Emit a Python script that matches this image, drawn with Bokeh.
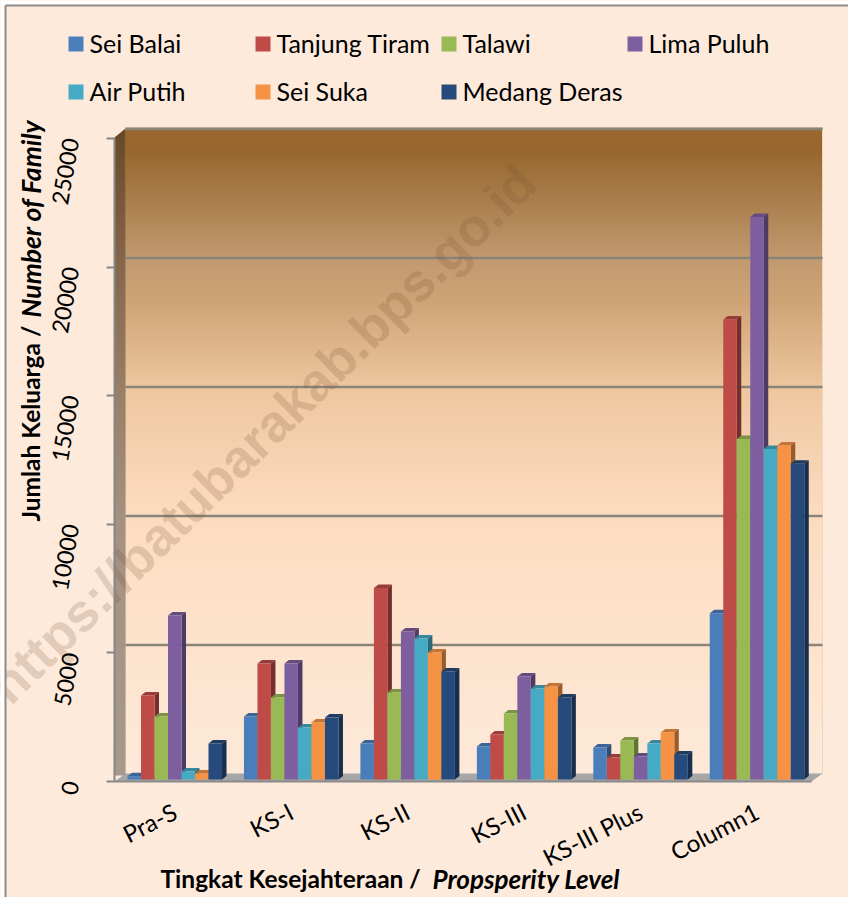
from bokeh.plotting import figure
from bokeh.models import Range1d, LinearAxis, FixedTicker
from bokeh.core.properties import value
from bokeh.embed import file_html
from bokeh.resources import INLINE
import math

categories = ["Pra-S", "KS-I", "KS-II", "KS-III", "KS-III Plus", "Column1"]
series_names = ["Sei Balai", "Tanjung Tiram", "Talawi", "Lima Puluh", "Air Putih", "Sei Suka", "Medang Deras"]
colors = ["#4a7ebb", "#be4b48", "#98b954", "#7d5fa0", "#46aac4", "#f59243", "#254a7b"]
sei_balai = [130, 2440, 1395, 1280, 1240, 6440]
tanjung_tiram = [3256, 4500, 7420, 1745, 850, 17830]
talawi = [2440, 3180, 3370, 2560, 1510, 13200]
lima_puluh = [6356, 4500, 5740, 3990, 890, 21800]
air_putih = [310, 2015, 5465, 3530, 1395, 12810]
sei_suka = [230, 2210, 4920, 3600, 1820, 12950]
medang_deras = [1395, 2400, 4190, 3180, 970, 12240]
y_ticks = [0, 5000, 10000, 15000, 20000, 25000]
series = [sei_balai, tanjung_tiram, talawi, lima_puluh, air_putih, sei_suka, medang_deras]

FONT = value("Lato")
BG = "#fdeadb"
W, H = 848, 897
PX0, PY0 = 0, 0
G0, GSTEP, BW = 174.25, 116.45, 13.5
SCALE = 645 / 25000
BASE = 779
DX, DY = 4.5, 3.5

p = figure(width=W, height=H, output_backend="svg", toolbar_location=None,
           x_axis_type=None, y_axis_type=None, min_border=0,
           x_range=Range1d((PX0 - G0) / GSTEP, (PX0 + W - G0) / GSTEP),
           y_range=Range1d((BASE - (PY0 + H)) / SCALE, (BASE - PY0) / SCALE))
p.outline_line_color = None
p.background_fill_color = BG
p.border_fill_color = BG
p.extra_x_ranges = {"px": Range1d(PX0, PX0 + W)}
p.extra_y_ranges = {
    "px": Range1d(PY0 + H, PY0),
    "axis": Range1d((781 - (PY0 + H)) / 0.02572, (781 - PY0) / 0.02572),
    "wall": Range1d((773.5 - (PY0 + H)) / 0.0258, (773.5 - PY0) / 0.0258),
}
PXR = dict(x_range_name="px", y_range_name="px")


def hexrgb(c):
    return [int(c[i:i + 2], 16) for i in (1, 3, 5)]


def ramp(stops, y):
    for (a, ca), (b, cb) in zip(stops, stops[1:]):
        if y <= b:
            t = (y - a) / (b - a)
            return "#%02x%02x%02x" % tuple(round(u + (v - u) * t) for u, v in zip(hexrgb(ca), hexrgb(cb)))
    return stops[-1][1]


WX0, WX1, WY0, WY1 = 125, 822, 128, 774
wall_stops = [(128, "#99682f"), (150, "#97672f"), (258, "#c29a70"), (300, "#cea376"), (387, "#eec79f"),
              (516, "#fcdcc0"), (645, "#fde3cd"), (774, "#fde9d9")]
side_stops = [(128, "#694a27"), (258, "#86664a"), (387, "#987f65"), (516, "#a59180"), (774, "#a79a8c")]
ys = list(range(WY0, WY1, 2))
p.quad(left=WX0, right=WX1, top=ys, bottom=[y + 3 for y in ys],
       fill_color=[ramp(wall_stops, y) for y in ys], line_color=None, **PXR)
# left side wall
p.patches([[114, WX0, WX0, 114] for y in ys],
          [[y + 9 - 9 * (y - WY0) / (WY1 - WY0), y, y + 3, y + 12 - 9 * (y - WY0) / (WY1 - WY0)] for y in ys],
          fill_color=[ramp(side_stops, y) for y in ys], line_color=None, **PXR)
# floor
p.patch([114, WX0, WX1, 811], [781, 773, 773, 781], fill_color="#a6a6a6", line_color=None, **PXR)
p.segment([WX1], [WY0], [WX1], [WY1], line_color="#f2d6bd", line_width=1, **PXR)
p.segment([WX0], [WY0], [WX1], [WY0], line_color="#8f8a80", line_width=2, **PXR)
p.segment([114], [781], [811], [781], line_color="#8a8a8a", line_width=2, **PXR)
# back-wall gridlines
p.segment(x0=[WX0] * 5, y0=y_ticks[1:], x1=[WX1] * 5, y1=y_ticks[1:], line_color="#8a8478", line_width=2.5,
          x_range_name="px", y_range_name="wall")

# watermark
p.text([262], [433], text=["https://batubarakab.bps.go.id"], angle=math.radians(44.5), text_align="center",
       text_baseline="middle", text_font=value("Liberation Sans"), text_font_style="bold", text_font_size="53px",
       text_color="#7a4f30", text_alpha=0.2, **PXR)


def shade(c, f):
    return "#%02x%02x%02x" % tuple(round(v * f) for v in hexrgb(c))


ux, uy = DX / GSTEP, DY / SCALE
bw = BW / GSTEP
for s, vals in enumerate(series):
    x0 = [g + (s - 3.5) * bw for g in range(len(vals))]
    x1 = [x + bw for x in x0]
    p.patches([[a, a + ux, b + ux, b] for a, b in zip(x0, x1)],
              [[v, v + uy, v + uy, v] for v in vals],
              fill_color=shade(colors[s], 0.8), line_color=None)
    p.patches([[b, b + ux, b + ux, b] for b in x1],
              [[v, v + uy, uy, 0] for v in vals],
              fill_color=shade(colors[s], 0.62), line_color=None)
    p.quad(left=x0, right=x1, bottom=0, top=vals, fill_color=colors[s], line_color=None)

# outer white strip and chart-area border
p.quad(left=[0, 0], right=[5, W], top=[0, 0], bottom=[H, 4], fill_color="#ffffff", line_color=None, **PXR)
p.segment([5, 5], [5, 5], [W, 5], [5, H], line_color="#8c8c8c", line_width=2, **PXR)

# legend
lx = [68, 255, 441, 627, 68, 255, 441]
ly = [43.5, 43.5, 43.5, 43.5, 91.5, 91.5, 91.5]
p.rect(x=[x + 7.5 for x in lx], y=ly, width=15, height=15, fill_color=colors, line_color=None, **PXR)
p.text([x + 21 for x in lx], [y - 1 for y in ly], text=series_names, text_font=FONT, text_font_size="25px",
       text_baseline="middle", text_color="#000000", **PXR)

# axes
ax_y = LinearAxis(ticker=FixedTicker(ticks=y_ticks), fixed_location=113.5, x_range_name="px", y_range_name="axis",
                  bounds=(0, 25000), major_tick_out=8, major_tick_in=0, minor_tick_out=0, minor_tick_in=0,
                  axis_line_color="#868686", axis_line_width=2, major_tick_line_color="#868686",
                  major_tick_line_width=2, major_label_standoff=35, major_label_orientation=math.radians(80),
                  major_label_text_font="Lato", major_label_text_font_size="23px",
                  major_label_text_color="#000000")
p.add_layout(ax_y, "left")
ax_x = LinearAxis(ticker=FixedTicker(ticks=list(range(len(categories)))), fixed_location=781, y_range_name="px",
                  major_label_overrides={i: c for i, c in enumerate(categories)},
                  major_tick_out=0, major_tick_in=0, minor_tick_out=0, minor_tick_in=0, axis_line_color=None,
                  major_label_standoff=28, major_label_orientation=math.radians(27),
                  major_label_text_font="Lato", major_label_text_font_size="24px",
                  major_label_text_color="#000000")
p.add_layout(ax_x, "below")

# axis titles
p.text([30], [521], text=["Jumlah Keluarga / "], angle=math.pi / 2, text_font=FONT, text_font_style="bold",
       text_font_size="24.5px", text_baseline="middle", text_color="#000000", **PXR)
p.text([30], [317], text=["Number of Family"], angle=math.pi / 2, text_font=FONT, text_font_style="bold italic",
       text_font_size="26.5px", text_baseline="middle", text_color="#000000", **PXR)
p.text([160], [878], text=["Tingkat Kesejahteraan / "], text_font=FONT, text_font_style="bold",
       text_font_size="24.5px", text_baseline="middle", text_color="#000000", **PXR)
p.text([432], [878], text=["Propsperity Level"], text_font=FONT, text_font_style="bold italic",
       text_font_size="26px", text_baseline="middle", text_color="#000000", **PXR)

open("out.html", "w").write(file_html(p, INLINE))
